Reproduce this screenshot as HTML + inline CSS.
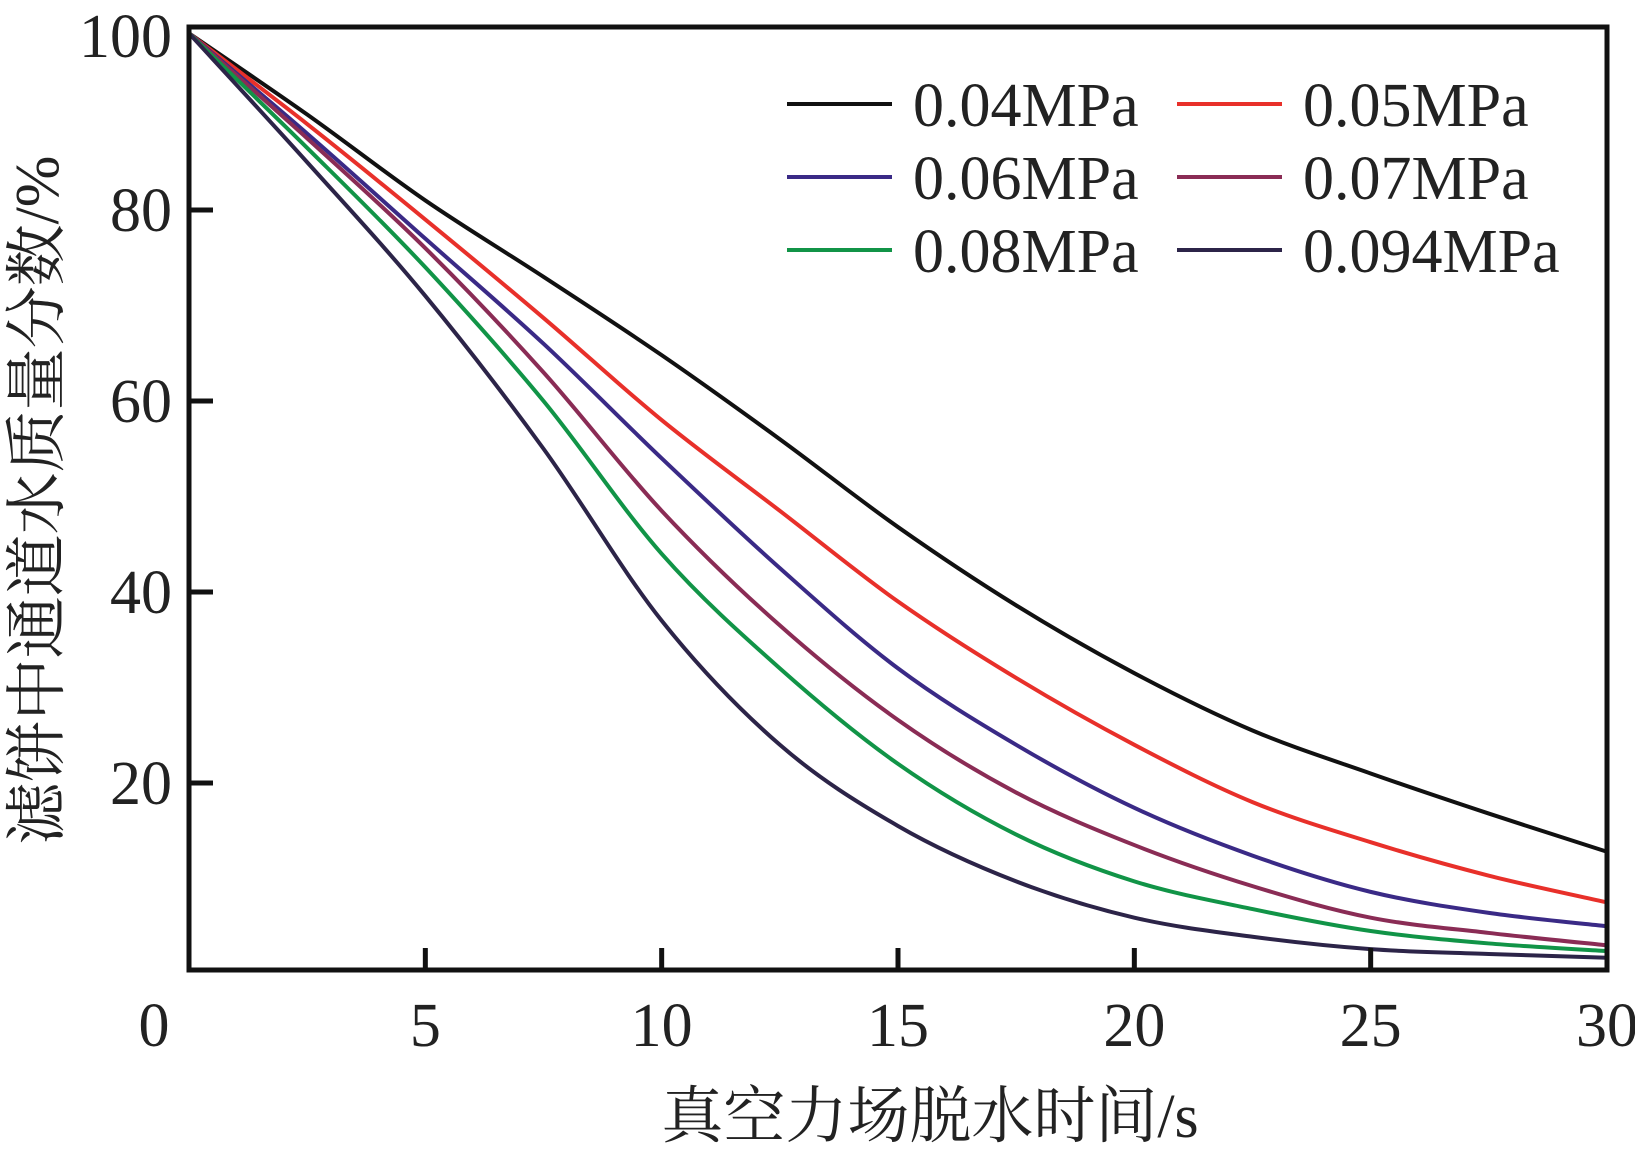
<!DOCTYPE html>
<html><head><meta charset="utf-8"><style>
html,body{margin:0;padding:0;background:#fff;}
svg text{font-family:"Liberation Serif","Noto Serif CJK SC",serif;fill:#222;}
</style></head><body>
<svg id="chart" width="1635" height="1155" viewBox="0 0 1635 1155" xmlns="http://www.w3.org/2000/svg">
<g id="plot"></g>
<g id="axes"></g>
<g id="legend"></g>
<text x="930" y="1137" font-size="62" text-anchor="middle">真空力场脱水时间/s</text>
<text transform="translate(58,500) rotate(-90)" font-size="62" text-anchor="middle">滤饼中通道水质量分数/%</text>
</svg>
<script>
const xs = [0, 2.5, 5, 7.5, 10, 12.5, 15, 17.5, 20, 22.5, 25, 27.5, 30];
const seriesNames = ["0.04MPa","0.05MPa","0.06MPa","0.07MPa","0.08MPa","0.094MPa"];
const s004 = [98.5, 90, 81, 73, 64.8, 56, 46.8, 38.6, 31.5, 25.5, 21, 16.8, 12.8];
const s005 = [98.5, 89, 79, 68.7, 58, 48.5, 39, 31, 24, 18, 13.8, 10.3, 7.5];
const s006 = [98.5, 88, 77, 66, 54, 42.5, 32, 24, 17.4, 12.4, 8.6, 6.4, 5];
const s007 = [98.5, 87.5, 76, 63, 48.5, 36.5, 26.6, 19, 13.5, 9.2, 5.9, 4.3, 3];
const s008 = [98.5, 86.5, 74, 60, 44, 32, 22, 14.6, 9.7, 6.8, 4.5, 3.2, 2.4];
const s0094 = [98.5, 85, 71, 55, 37, 24, 15.5, 9.7, 5.9, 3.9, 2.6, 2.1, 1.7];
const xTicks = [0,5,10,15,20,25,30];
const yTicks = [20,40,60,80,100];
const colors = ["#111111","#e8302a","#3a2a86","#8a2c55","#119447","#2c2448"];
const allSeries = [s004,s005,s006,s007,s008,s0094];

const X0=189, X1=1607, Y0=974, YTOP=19, FTOP=27, FBOT=970;
function sx(v){return X0+(X1-X0)*v/30;}
function sy(v){return Y0-(Y0-YTOP)*v/100;}
const NS="http://www.w3.org/2000/svg";
function mk(tag,attrs,parent){const e=document.createElementNS(NS,tag);for(const k in attrs)e.setAttribute(k,attrs[k]);parent.appendChild(e);return e;}
function pathFor(vals){
  const p=xs.map((x,i)=>[sx(x),sy(vals[i])]);
  let d="M"+p[0][0]+","+p[0][1];
  for(let i=0;i<p.length-1;i++){
    const p0=p[Math.max(0,i-1)],p1=p[i],p2=p[i+1],p3=p[Math.min(p.length-1,i+2)];
    const c1=[p1[0]+(p2[0]-p0[0])/6,p1[1]+(p2[1]-p0[1])/6];
    const c2=[p2[0]-(p3[0]-p1[0])/6,p2[1]-(p3[1]-p1[1])/6];
    d+=" C"+c1[0]+","+c1[1]+" "+c2[0]+","+c2[1]+" "+p2[0]+","+p2[1];
  }
  return d;
}
const plot=document.getElementById('plot');
allSeries.forEach((vals,i)=>{
  const el=mk('path',{d:pathFor(vals),fill:'none',stroke:colors[i],'stroke-width':4},plot);
  
  
});
const axes=document.getElementById('axes');
const frame=mk('rect',{x:X0,y:FTOP,width:X1-X0,height:FBOT-FTOP,fill:'none',stroke:'#111','stroke-width':5},axes);


xTicks.forEach(t=>{
  if(t>0&&t<30){const tk=mk('line',{x1:sx(t),x2:sx(t),y1:FBOT,y2:FBOT-22,stroke:'#111','stroke-width':5},axes);
  
  }
  const lb=mk('text',{x:sx(t)-(t===0?35:0),y:1046,'font-size':62,'text-anchor':'middle'},axes);
  lb.textContent=t;
  
  
});
yTicks.forEach(t=>{
  if(t<100){const tk=mk('line',{x1:X0,x2:X0+24,y1:sy(t),y2:sy(t),stroke:'#111','stroke-width':5},axes);
  
  }
  const lb=mk('text',{x:172,y:(t===100?Math.max(sy(t),36):sy(t))+21,'font-size':62,'text-anchor':'end'},axes);
  lb.textContent=t;
  
  
});
const legend=document.getElementById('legend');
seriesNames.forEach((n,i)=>{
  const col=i%2,row=Math.floor(i/2);
  const lx=col===0?787:1177, ly=104+row*73;
  const ln=mk('line',{x1:lx,x2:lx+105,y1:ly,y2:ly,stroke:colors[i],'stroke-width':4},legend);
  
  
  const tx=mk('text',{x:lx+126,y:ly+22,'font-size':62},legend);
  tx.textContent=n;
  
  
});
</script>
</body></html>
